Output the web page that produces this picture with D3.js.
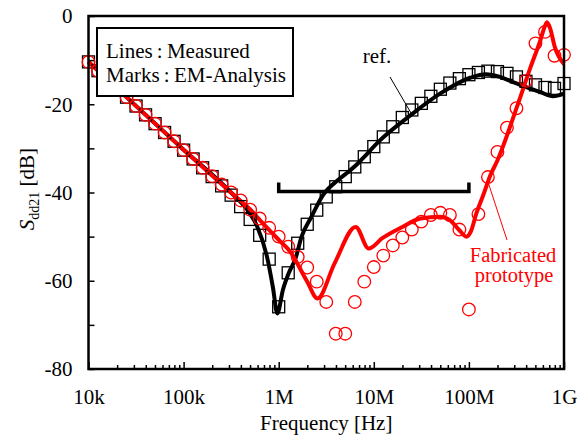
<!DOCTYPE html>
<html>
<head>
<meta charset="utf-8">
<script src="https://cdn.jsdelivr.net/npm/d3@7"></script>
</head>
<body style="margin:0">
<script>
// barrido EM: 10 puntos por decada, 10k..1G
var mantisas=[1,1.259,1.585,1.995,2.512,3.162,3.981,5.012,6.310,7.943]
var decadas=[1e4,1e5,1e6,1e7,1e8]
var emFreq=[]
decadas.forEach(function(d){mantisas.forEach(function(m){emFreq.push(m*d)})})
emFreq.push(1e9)

// marcas EM-Analysis (dB)
var emRef=[-10.4,-12.4,-14.4,-16.4,-18.4,-20.4,-22.4,-24.4,-26.4,-28.4,
	-30.4,-32.4,-34.4,-36.4,-38.5,-40.6,-43.2,-46.1,-49.7,-55.1,
	-65.9,-58.2,-51.5,-47.2,-44.0,-41.0,-38.7,-36.4,-34.2,-31.9,
	-29.6,-27.4,-25.1,-23.0,-21.3,-19.8,-18.2,-16.6,-15.2,-14.2,
	-13.3,-12.8,-12.5,-12.6,-13.0,-13.8,-14.8,-15.6,-16.2,-16.4,-15.3]
var emProto=[-10.4,-12.4,-14.4,-16.4,-18.4,-20.4,-22.4,-24.4,-26.4,-28.4,
	-30.4,-32.4,-34.4,-36.3,-38.2,-40.0,-41.8,-43.9,-45.9,-48.0,
	-50.0,-52.3,-54.6,-57.0,-60.2,-64.8,-72.0,-72.0,-64.8,-60.2,
	-56.9,-54.3,-52.0,-50.2,-48.4,-46.6,-45.1,-44.6,-45.1,-48.4,
	-66.5,-44.9,-36.5,-30.8,-25.3,-20.9,-14.7,-6.2,-3.6,-9.0,-8.8]

// lineas medidas
var medRefF=[1e4,1e5,3.15e5,4.99e5,5.91e5,7.54e5,8.71e5,9.67e5,1.11e6,1.28e6,1.50e6,
	1.74e6,2.21e6,2.92e6,4.3e6,5.63e6,6.66e6,7.7e6,1.16e7,2.4e7,4.97e7,1.03e8,1.51e8,
	2.12e8,2.91e8,4.08e8,5.6e8,7.66e8,1e9]
var medRefDb=[-10.4,-30.3,-40.0,-44.8,-47.6,-54.6,-61.6,-67.4,-62.0,-58.2,-55.0,
	-50.0,-45.5,-40.6,-37.0,-35.0,-33.6,-32.2,-28.2,-22.6,-17.6,-14.0,-13.2,
	-13.8,-15.0,-16.2,-17.2,-18.2,-17.6]
var medProtoF=[1e4,1e5,3.15e5,4.99e5,6.82e5,1.03e6,1.31e6,1.97e6,2.56e6,3.88e6,6.45e6,
	8.83e6,1.24e7,1.92e7,3.1e7,4.97e7,6.35e7,7.9e7,9.4e7,1.05e8,1.2e8,1.42e8,1.69e8,
	2.0e8,3.2e8,4.45e8,5.66e8,6.22e8,6.63e8,7.15e8,8.0e8,1e9]
var medProtoDb=[-10.4,-30.3,-40.0,-43.8,-47.0,-51.0,-53.3,-60.0,-64.0,-56.0,-47.8,
	-52.7,-50.3,-48.0,-45.9,-45.5,-46.3,-48.5,-50.0,-48.8,-44.7,-40.5,-36.0,
	-32.7,-20.6,-11.6,-5.4,-2.6,-1.4,-2.8,-7.0,-10.9]

var xTicks=[1e4,1e5,1e6,1e7,1e8,1e9]
var xTickLabels=["10k","100k","1M","10M","100M","1G"]
var yTicks=[-80,-70,-60,-50,-40,-30,-20,-10,0]

grafica()

function grafica(){
	var margin={top:16,left:88.5,right:23,bottom:69}
	var ancho=587-margin.left-margin.right
	var alto=438-margin.top-margin.bottom

	var raiz=d3.select("body").append("svg")
		.attr("width",587).attr("height",438)
		.attr("font-family","Liberation Serif")
	var svg=raiz.append("g")
		.attr("transform","translate("+margin.left+","+margin.top+")")

	// texto con fuente serif fijada en cada elemento
	function texto(padre,tam){
		return padre.append("text")
			.style("font-family","'Liberation Serif'")
			.style("font-size",tam+"px")
	}

	var x=d3.scaleLog().domain([1e4,1e9]).range([0,ancho])
	var y=d3.scaleLinear().domain([-80,0]).range([alto,0])

	// ejes
	var ejeX=svg.append("g").attr("transform","translate(0,"+alto+")")
		.call(d3.axisBottom(x).tickValues(xTicks).tickSize(-7).tickPadding(20)
			.tickFormat(function(d,i){return xTickLabels[i]}))
	var menores=[]
	decadas.forEach(function(d){for(var m=2;m<10;m++)menores.push(m*d)})
	svg.append("g").attr("transform","translate(0,"+alto+")")
		.call(d3.axisBottom(x).tickValues(menores).tickSize(-4).tickFormat(""))

	var ejeY=svg.append("g")
		.call(d3.axisLeft(y).tickValues(yTicks).tickSize(-6).tickPadding(16)
			.tickFormat(function(d){return d%20==0?d:""}))

	svg.selectAll(".domain").remove()
	svg.selectAll("g").attr("font-family",null).attr("font-size",null)
	svg.selectAll(".tick line").attr("stroke","#000").attr("stroke-width",1.5)
	svg.selectAll(".tick text").attr("fill","#000")
		.style("font-family","'Liberation Serif'").style("font-size","21px")
	ejeY.selectAll(".tick text").attr("dy","0.33em")

	// lineas medidas
	var linea=d3.line()
		.x(function(d){return x(d[0])})
		.y(function(d){return y(d[1])})
		.curve(d3.curveMonotoneX)

	svg.append("path")
		.datum(d3.zip(medRefF,medRefDb))
		.attr("d",linea)
		.style("fill","none").style("stroke","#000").style("stroke-width",4)
		.style("stroke-linejoin","round")
	svg.append("path")
		.datum(d3.zip(medProtoF,medProtoDb))
		.attr("d",linea)
		.style("fill","none").style("stroke","#ff0000").style("stroke-width",4)
		.style("stroke-linejoin","round")

	// marcas EM
	var lado=12
	svg.selectAll("cuadros")
		.data(d3.zip(emFreq,emRef))
		.enter().append("rect")
		.attr("x",function(d){return x(d[0])-lado/2})
		.attr("y",function(d){return y(d[1])-lado/2})
		.attr("width",lado).attr("height",lado)
		.style("fill","none").style("stroke","#000").style("stroke-width",1.3)
	svg.selectAll("circulos")
		.data(d3.zip(emFreq,emProto))
		.enter().append("circle")
		.attr("cx",function(d){return x(d[0])})
		.attr("cy",function(d){return y(d[1])})
		.attr("r",6.3)
		.style("fill","none").style("stroke","#ff0000").style("stroke-width",1.3)

	// corchete 1M-100M
	var yb=y(-39.8)
	svg.append("path")
		.attr("d","M"+x(1e6)+","+(yb-9)+"V"+yb+"H"+x(1e8)+"V"+(yb-9))
		.style("fill","none").style("stroke","#000").style("stroke-width",3.5)

	// anotaciones
	texto(svg,21).attr("x",377-margin.left).attr("y",63-margin.top)
		.attr("text-anchor","middle").text("ref.")
	svg.append("line")
		.attr("x1",390-margin.left).attr("y1",77-margin.top)
		.attr("x2",411-margin.left).attr("y2",113-margin.top)
		.style("stroke","#000").style("stroke-width",1)

	svg.append("line")
		.attr("x1",488-margin.left).attr("y1",182-margin.top)
		.attr("x2",507-margin.left).attr("y2",240-margin.top)
		.style("stroke","#ff0000").style("stroke-width",1)
	texto(svg,20.5).attr("text-anchor","middle")
		.attr("x",513-margin.left).attr("y",262-margin.top)
		.attr("fill","#ff0000").text("Fabricated")
	texto(svg,20.5).attr("text-anchor","middle")
		.attr("x",514-margin.left).attr("y",282-margin.top)
		.attr("fill","#ff0000").text("prototype")

	// marco
	svg.append("rect").attr("width",ancho).attr("height",alto)
		.style("fill","none").style("stroke","#000").style("stroke-width",2.5)

	// leyenda
	var ley=svg.append("g").attr("transform","translate("+(97-margin.left)+","+(28-margin.top)+")")
	ley.append("rect").attr("width",196).attr("height",68)
		.style("fill","#fff").style("stroke","#000").style("stroke-width",2)
	texto(ley,21).attr("x",9).attr("y",29.5).text("Lines\u2009:\u2009Measured")
	texto(ley,21).attr("x",9).attr("y",54).text("Marks\u2009:\u2009EM-Analysis")

	// titulos
	texto(svg,21).attr("x",ancho/2).attr("y",430-margin.top)
		.attr("text-anchor","middle").text("Frequency [Hz]")
	var ty=texto(svg,21)
		.attr("transform","translate("+(34-margin.left)+","+(189-margin.top)+") rotate(-90)")
		.attr("text-anchor","middle")
	ty.append("tspan").style("font-style","italic").text("S")
	ty.append("tspan").attr("dy",5).style("font-size","14px").text("dd21")
	ty.append("tspan").attr("dy",-5).text(" [dB]")
}
</script>
</body>
</html>
